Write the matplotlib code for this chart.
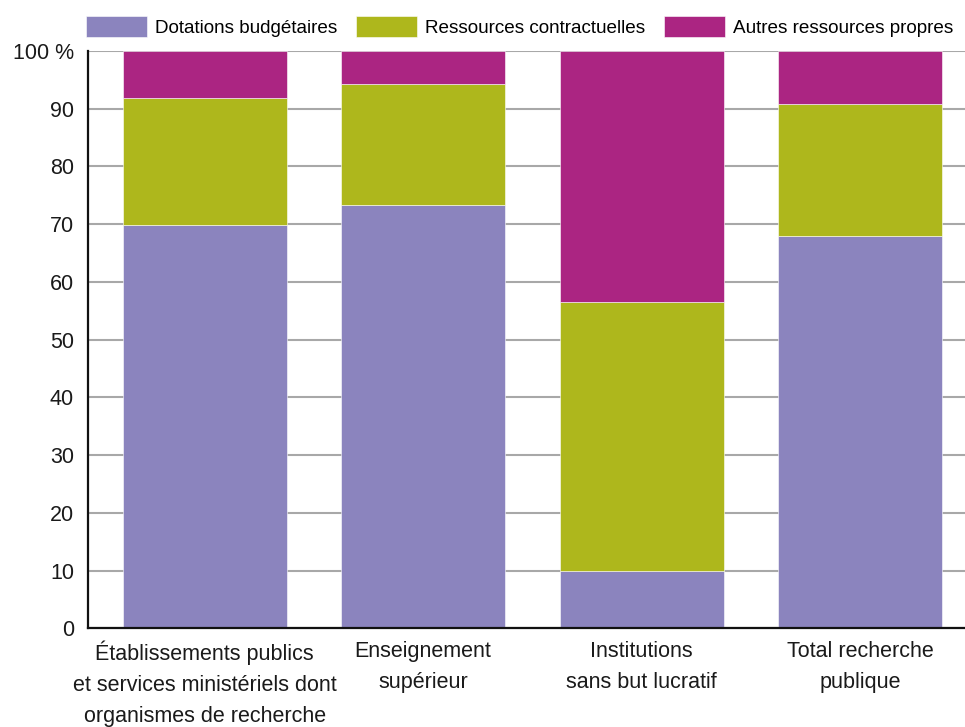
import matplotlib.pyplot as plt
import numpy as np

plt.rcParams['font.family'] = ['Liberation Sans', 'DejaVu Sans']

categories = [
    "Établissements publics\net services ministériels dont\norganismes de recherche",
    "Enseignement\nsupérieur",
    "Institutions\nsans but lucratif",
    "Total recherche\npublique",
]
dotations = np.array([69.9, 73.4, 9.9, 68.0])
contractuelles = np.array([21.9, 20.9, 46.6, 22.8])
autres = 100 - dotations - contractuelles

series = [
    ("Dotations budgétaires", dotations, "#8b84be"),
    ("Ressources contractuelles", contractuelles, "#aeb71c"),
    ("Autres ressources propres", autres, "#ab2582"),
]

fig = plt.figure(figsize=(9.65, 7.27), dpi=100)
ax = fig.add_axes([0.0912, 0.1358, 0.9088, 0.794])

x = np.arange(len(categories))
bottom = np.zeros(len(categories))
for name, vals, col in series:
    ax.bar(x, vals, width=0.751, bottom=bottom, color=col, label=name,
           edgecolor='white', linewidth=0.4, zorder=3)
    bottom += vals

ax.set_xlim(-0.534, 3.48)
ax.set_ylim(0, 100)
ax.set_yticks(np.arange(0, 101, 10))
ax.set_yticklabels([str(v) for v in range(0, 100, 10)] + ["100 %"])
ax.set_xticks(x)
ax.set_xticklabels(categories, linespacing=1.62)

ax.yaxis.grid(True, color='#a8a8a8', linewidth=1.5, zorder=0)
ax.tick_params(axis='y', length=0, pad=10, labelsize=15.5, labelcolor='#1a1a1a')
ax.tick_params(axis='x', length=0, pad=9, labelsize=15.5, labelcolor='#1a1a1a')
for s in ('top', 'right'):
    ax.spines[s].set_visible(False)
for s in ('left', 'bottom'):
    ax.spines[s].set_linewidth(1.6)
    ax.spines[s].set_color('#111111')
    ax.spines[s].set_zorder(4)

ax.legend(loc='lower left', bbox_to_anchor=(-0.002, 1.025), ncol=3, frameon=False,
          fontsize=13.6, handlelength=3.2, handleheight=1.3, handletextpad=0.45,
          columnspacing=1.0, borderaxespad=0, borderpad=0)

fig.savefig('out.png', dpi=100)
